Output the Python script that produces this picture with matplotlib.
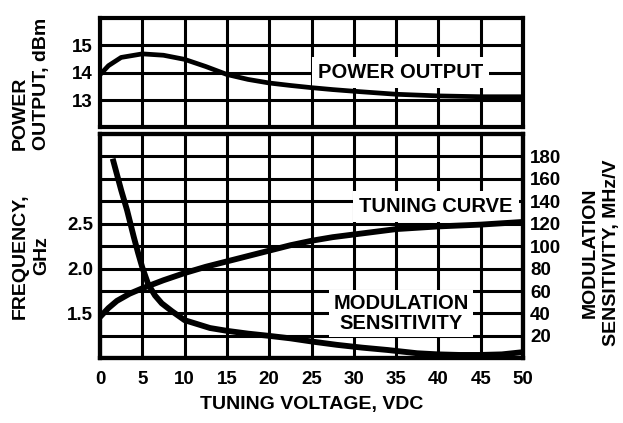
import matplotlib
matplotlib.use('Agg')
import matplotlib.pyplot as plt

plt.rcParams['font.family'] = ['Liberation Sans', 'DejaVu Sans']
plt.rcParams['font.weight'] = 'bold'

# power output (top panel)
v_power = [0, 1, 2.5, 5, 7.5, 10, 12.5, 15, 17.5, 20, 22.5, 25, 27.5, 30, 35, 40, 45, 50]
power = [13.92, 14.25, 14.55, 14.68, 14.63, 14.48, 14.22, 13.93, 13.75, 13.62, 13.53, 13.45, 13.38,
         13.32, 13.21, 13.15, 13.12, 13.12]

# tuning curve, GHz (bottom panel, left axis)
v_tune = [0, 1, 2, 3.5, 5, 7.5, 10, 12.5, 15, 17.5, 20, 22.5, 25, 27.5, 30, 35, 40, 45, 50]
freq = [1.46, 1.56, 1.64, 1.72, 1.78, 1.87, 1.95, 2.02, 2.08, 2.14, 2.20, 2.26, 2.31, 2.35,
        2.38, 2.44, 2.47, 2.49, 2.52]

# modulation sensitivity, MHz/V (bottom panel, right axis)
v_mod = [1.5, 2.5, 3.2, 4, 4.5, 5, 5.7, 6.5, 7.3, 8.5, 10, 11.5, 13, 15, 17.5, 20, 22.5, 25,
         28, 31, 34, 37.5, 40, 42.5, 45, 47.5, 50]
mod = [178, 150, 132, 108, 94, 81, 66, 56, 49, 42, 34, 30.5, 27, 24.5, 22, 20, 17.8, 15,
       12, 9.5, 7.4, 4.5, 3.5, 3, 3, 3.5, 5.5]

x_ticks = list(range(0, 55, 5))
power_ticks = [13, 14, 15]
freq_ticks = [1.5, 2.0, 2.5]
freq_labels = ['1.5', '2.0', '2.5']
mod_ticks = list(range(20, 200, 20))

W, H = 623, 423
fig = plt.figure(figsize=(W / 100, H / 100), dpi=100)

left, right = 100, 523
top_rect = [left / W, 1 - 127.5 / H, (right - left) / W, (127.5 - 17.6) / H]
bot_rect = [left / W, 1 - 358.3 / H, (right - left) / W, (358.3 - 134) / H]

GRID_LW = 2.2
SPINE_LW = 3.0
TICK_FS = 13.5
ANN_FS = 14.5
CURVE_LW = 4.2

# --- top panel: power output
ap = fig.add_axes(top_rect)
ap.set_xlim(0, 50)
ap.set_ylim(12, 16)
ap.set_xticks(x_ticks)
ap.set_yticks(power_ticks)
ap.tick_params(length=0, labelbottom=False, labelsize=TICK_FS, pad=5)
ap.grid(True, color='black', lw=GRID_LW)
ap.set_axisbelow(True)
for s in ap.spines.values():
    s.set_linewidth(SPINE_LW)
ap.plot(v_power, power, color='black', lw=3.4, zorder=3, solid_capstyle='round')
ap.text(35.5, 14.0, 'POWER OUTPUT', fontsize=ANN_FS, fontweight='heavy', ha='center', va='center',
        zorder=2.5, bbox=dict(facecolor='white', edgecolor='none', boxstyle='square,pad=0.3'))

# --- bottom panel: modulation sensitivity axis (drawn underneath, carries the grid)
axm = fig.add_axes(bot_rect)
axm.set_zorder(0)
axm.set_xlim(0, 50)
axm.set_ylim(0, 200)
axm.set_xticks(x_ticks)
axm.set_yticks(mod_ticks)
axm.yaxis.tick_right()
axm.tick_params(length=0, labelbottom=False, labelsize=TICK_FS, pad=5)
axm.grid(True, color='black', lw=GRID_LW)
axm.set_axisbelow(True)
for s in axm.spines.values():
    s.set_linewidth(SPINE_LW)
axm.plot(v_mod, mod, color='black', lw=CURVE_LW, zorder=3, solid_capstyle='butt')
axm.text(39.7, 135, 'TUNING CURVE', fontsize=ANN_FS, fontweight='heavy', ha='center', va='center',
         zorder=2.5, bbox=dict(facecolor='white', edgecolor='none', boxstyle='square,pad=0.3'))
axm.text(35.6, 40, 'MODULATION\nSENSITIVITY', fontsize=ANN_FS, fontweight='heavy', ha='center',
         va='center', zorder=2.5, linespacing=1.1,
         bbox=dict(facecolor='white', edgecolor='none', boxstyle='square,pad=0.2'))

# --- bottom panel: frequency axis (on top)
axf = fig.add_axes(bot_rect, sharex=axm)
axf.set_zorder(1)
axf.patch.set_visible(False)
axf.set_ylim(1.0, 3.5)
axf.set_yticks(freq_ticks)
axf.set_yticklabels(freq_labels)
axf.tick_params(axis='y', length=0, labelsize=TICK_FS, pad=5)
axf.tick_params(axis='x', length=0, labelsize=TICK_FS, pad=9, labelbottom=True)
for s in axf.spines.values():
    s.set_linewidth(SPINE_LW)
axf.plot(v_tune, freq, color='black', lw=CURVE_LW, zorder=3, solid_capstyle='butt')
axf.set_xlabel('TUNING VOLTAGE, VDC', fontsize=14, fontweight='heavy', labelpad=6)

# axis titles
fig.text(31 / W, 1 - 150 / H, 'POWER\nOUTPUT, dBm', rotation=90, ha='center', va='bottom',
         multialignment='left', fontsize=14, fontweight='heavy', linespacing=1.35)
fig.text(31 / W, 1 - 256 / H, 'FREQUENCY,\nGHz', rotation=90, ha='center', va='center',
         multialignment='center', fontsize=14, fontweight='heavy', linespacing=1.35)
fig.text(601 / W, 1 - 253 / H, 'MODULATION\nSENSITIVITY, MHz/V', rotation=90, ha='center',
         va='center', multialignment='center', fontsize=14, fontweight='heavy', linespacing=1.35)

fig.savefig('out.png', dpi=100)
plt.close(fig)
